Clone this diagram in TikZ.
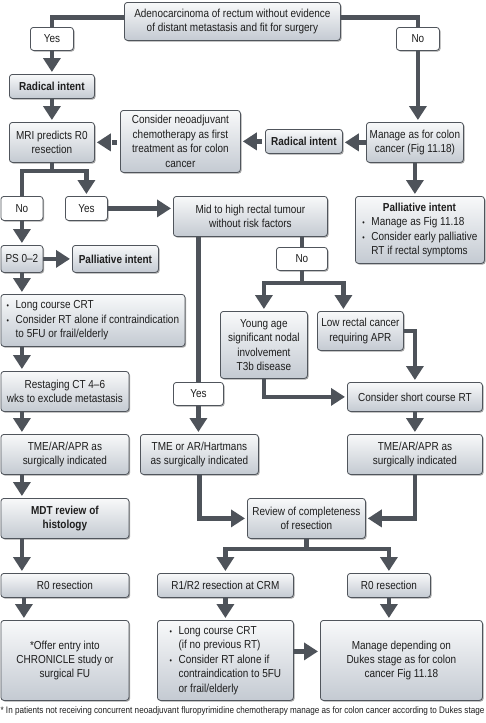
\documentclass[tikz,border=0pt]{standalone}
\usepackage{fontspec}
\setmainfont[FakeStretch=0.86]{Liberation Sans}
\usetikzlibrary{arrows.meta,shadows}
\definecolor{arrc}{RGB}{78,83,90}
\definecolor{edgec}{RGB}{80,85,92}
\definecolor{topc}{RGB}{248,249,250}
\definecolor{botc}{RGB}{196,202,210}
\definecolor{txtc}{RGB}{30,30,30}
\newcommand\mybul{\makebox[9pt][l]{\fontsize{8}{8}\selectfont\textbullet}}
\newcommand\myind{\hspace*{9pt}}
\begin{document}
\begin{tikzpicture}[x=1pt,y=-1pt,
  base/.style={draw=edgec, line width=0.8pt, rounded corners=3pt, anchor=north west,
    align=center, inner sep=1pt, text=txtc, font=\fontsize{11.6}{14.4}\selectfont,
    drop shadow={shadow xshift=1.2pt, shadow yshift=-1.2pt, fill=black, opacity=0.35}},
  box/.style={base, top color=topc, bottom color=botc},
  lab/.style={base, fill=white},
  wh/.style 2 args={minimum width=#1pt, minimum height=#2pt},
  line/.style={draw=arrc, line width=4.5pt},
  arrow/.style={line, -{Triangle[width=17pt,length=14pt]}, shorten >=2pt},
  dasharrow/.style={arrow, dash pattern=on 0pt off 3pt on 5pt off 30pt},
]
\useasboundingbox (0,0) rectangle (485,723);

% nodes
\node[box, wh={216}{38}] (top) at (124,2) {Adenocarcinoma of rectum without evidence\\of distant metastasis and fit for surgery};
\node[lab, wh={43}{23}] (yes1) at (30,27) {Yes};
\node[lab, wh={43}{23}] (no1) at (396,27) {No};
\node[box, wh={85}{24}] (rad1) at (9,74) {\textbf{Radical intent}};
\node[box, wh={85}{40}] (mri) at (9,122) {MRI predicts R0\\resection};
\node[box, wh={120}{62}] (neo) at (120,110) {Consider neoadjuvant\\chemotherapy as first\\treatment as for colon\\cancer};
\node[box, wh={77}{24}] (rad2) at (265,129) {\textbf{Radical intent}};
\node[box, wh={97}{40}] (colon) at (366,122) {Manage as for colon\\cancer (Fig 11.18)};
\node[box, wh={129}{67}, align=left] (pal2) at (355,196) {\makebox[114pt]{\textbf{Palliative intent}}\\\mybul Manage as Fig 11.18\\\mybul Consider early palliative\\\myind RT if rectal symptoms};
\node[lab, wh={42}{24}] (no2) at (0.5,196) {No};
\node[lab, wh={42}{24}] (yes2) at (65,196) {Yes};
\node[box, wh={154}{40}] (mid) at (173,196) {Mid to high rectal tumour\\without risk factors};
\node[box, wh={42}{27}] (ps) at (0.5,245) {PS 0--2};
\node[box, wh={86}{27}] (pal1) at (72,245) {\textbf{Palliative intent}};
\node[lab, wh={51}{23}] (no3) at (276,247) {No};
\node[box, wh={184}{52}, align=left] (long1) at (0.5,294) {\mybul Long course CRT\\\mybul Consider RT alone if contraindication\\\myind to 5FU or frail/elderly};
\node[box, wh={87}{67}] (young) at (220,311) {Young age\\significant nodal\\involvement\\T3b disease};
\node[box, wh={86}{39}] (low) at (317,311) {Low rectal cancer\\requiring APR};
\node[lab, wh={50}{23}] (yes3) at (173,382) {Yes};
\node[box, wh={128}{40}] (restage) at (0.5,371) {Restaging CT 4--6\\wks to exclude metastasis};
\node[box, wh={135}{29}] (short) at (347,382) {Consider short course RT};
\node[box, wh={128}{40}] (tme1) at (0.5,434) {TME/AR/APR as\\surgically indicated};
\node[box, wh={118}{40}] (tme2) at (140,434) {TME or AR/Hartmans\\as surgically indicated};
\node[box, wh={135}{40}] (tme3) at (347,434) {TME/AR/APR as\\surgically indicated};
\node[box, wh={128}{40}] (mdt) at (0.5,498) {\textbf{MDT review of}\\\textbf{histology}};
\node[box, wh={118}{40}] (review) at (247,498) {Review of completeness\\of resection};
\node[box, wh={128}{24}] (r0a) at (0.5,573) {R0 resection};
\node[box, wh={136}{24}] (r12) at (157,573) {R1/R2 resection at CRM};
\node[box, wh={83}{24}] (r0b) at (347,573) {R0 resection};
\node[box, wh={128}{80}] (offer) at (0.5,620) {*Offer entry into\\CHRONICLE study or\\surgical FU};
\node[box, wh={136}{80}, align=left] (long2) at (157,620) {\mybul Long course CRT\\\myind (if no previous RT)\\\mybul Consider RT alone if\\\myind contraindication to 5FU\\\myind or frail/elderly};
\node[box, wh={162}{80}] (manage) at (320,620) {Manage depending on\\Dukes stage as for colon\\cancer Fig 11.18};
\node[text=txtc, font=\fontsize{9.45}{10}\selectfont, inner sep=0pt] (foot) at (242.5,711) {* In patients not receiving concurrent neoadjuvant fluropyrimidine chemotherapy manage as for colon cancer according to Dukes stage};

% connectors
\draw[line] ([yshift=4pt]top.west) -| (yes1.north);
\draw[line] ([yshift=4pt]top.east) -| (no1.north);
\draw[arrow] (yes1.south) -- (rad1.north -| yes1.south);
\draw[arrow] (rad1.south) -- (mri.north);
\draw[arrow] (no1.south) -- (colon.north -| no1.south);
\draw[arrow] (colon.west) -- (rad2.east |- colon.west);
\draw[dasharrow] (rad2.west) -- (neo.east |- rad2.west);
\draw[dasharrow] (neo.west |- mri.east) -- (mri.east);
\draw[arrow] (colon.south) -- (pal2.north -| colon.south);
\draw[line] (mri.south) -- ++(0,8) coordinate (b1);
\draw[line] (b1) -| (no2.north);
\draw[arrow] (b1) -| (yes2.north);
\draw[arrow] (yes2.east) -- (yes2.east -| mid.west);
\draw[arrow] (no2.south) -- (ps.north);
\draw[arrow] (ps.east) -- (pal1.west);
\draw[line] (mid.south -| yes3.north) -- (yes3.north);
\draw[line] (mid.south -| no3.north) -- (no3.north);
\draw[line] (no3.south) -- ++(0,12) coordinate (b2);
\draw[arrow] (b2) -| (young.north);
\draw[arrow] (b2) -| ([xshift=-17pt]low.north);
\draw[arrow] (low.east) -| (short.north);
\draw[arrow] (young.south) |- (short.west);
\draw[arrow] (ps.south) -- (ps.south |- long1.north);
\draw[arrow] (ps.south |- long1.south) -- (ps.south |- restage.north);
\draw[arrow] (ps.south |- restage.south) -- (ps.south |- tme1.north);
\draw[arrow] (ps.south |- tme1.south) -- (ps.south |- mdt.north);
\draw[arrow] (ps.south |- mdt.south) -- (ps.south |- r0a.north);
\draw[arrow] ([xshift=2pt]ps.south |- r0a.south) -- ([xshift=2pt]ps.south |- offer.north);
\draw[arrow] (yes3.south) -- (yes3.south |- tme2.north);
\draw[arrow] (short.south) -- (tme3.north);
\draw[arrow] (tme2.south) |- (review.west);
\draw[arrow] (tme3.south) |- (review.east);
\draw[line] (review.south) -- ++(0,10) coordinate (b3);
\draw[arrow] (b3) -| (r12.north);
\draw[arrow] (b3) -| (r0b.north);
\draw[arrow] (r12.south) -- (long2.north);
\draw[arrow] (r0b.south) -- (r0b.south |- manage.north);
\draw[arrow] ([yshift=9pt]long2.east) -- ([yshift=9pt]long2.east -| manage.west);
\end{tikzpicture}
\end{document}
